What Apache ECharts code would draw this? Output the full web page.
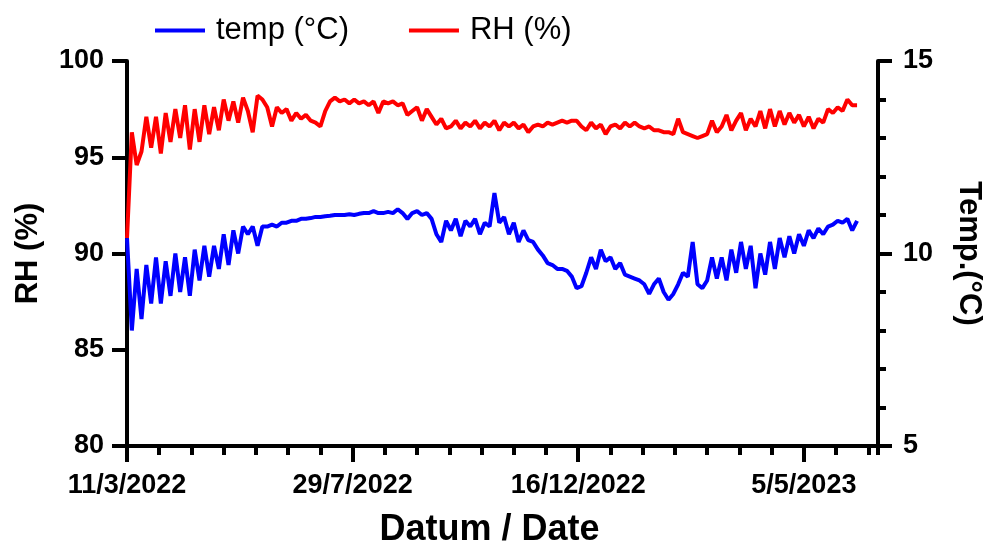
<!DOCTYPE html>
<html>
<head>
<meta charset="utf-8">
<script src="https://cdn.jsdelivr.net/npm/echarts@6/dist/echarts.min.js"></script>
<style>
  html, body { margin: 0; padding: 0; background: #fff; }
  #chart { width: 984px; height: 544px; }
</style>
</head>
<body>
<div id="chart"></div>
<script>
// logger readings, one every 3 days from 11/3/2022
var startDate = Date.UTC(2022, 2, 11);
var stepDays = 3;
var axisDays = 466;

var rhValues = [
  90.8, 96.3, 94.6, 95.3, 97.1, 95.5, 97.1, 95.2, 97.3, 95.8,
  97.5, 96.0, 97.7, 95.4, 97.5, 95.8, 97.7, 96.2, 97.6, 96.4,
  98.0, 96.9, 97.9, 96.8, 98.1, 97.4, 96.3, 98.2, 98.0, 97.6,
  96.6, 97.6, 97.3, 97.5, 96.9, 97.3, 97.0, 97.2, 96.9, 96.8,
  96.6, 97.4, 97.9, 98.1, 97.9, 98.0, 97.8, 98.0, 97.8, 97.9,
  97.7, 97.9, 97.3, 97.9, 97.8, 97.9, 97.7, 97.8, 97.2, 97.4,
  97.6, 96.9, 97.5, 97.1, 96.7, 97.0, 96.5, 96.6, 96.9, 96.5,
  96.8, 96.6, 96.9, 96.5, 96.8, 96.6, 96.9, 96.4, 96.8, 96.6,
  96.8, 96.5, 96.7, 96.3, 96.6, 96.7, 96.6, 96.8, 96.7, 96.8,
  96.9, 96.8, 96.9, 96.9, 96.6, 96.4, 96.8, 96.5, 96.7, 96.2,
  96.6, 96.7, 96.5, 96.8, 96.6, 96.8, 96.6, 96.5, 96.6, 96.4,
  96.4, 96.3, 96.3, 96.2, 97.0, 96.3, 96.2, 96.1, 96.0, 96.1,
  96.2, 96.9, 96.3, 96.6, 97.2, 96.4, 96.9, 97.3, 96.4, 97.0,
  96.6, 97.4, 96.5, 97.5, 96.6, 97.4, 96.7, 97.3, 96.8, 97.2,
  96.6, 97.1, 96.5, 97.0, 96.8, 97.5, 97.3, 97.6, 97.4, 98.0,
  97.7, 97.7
];

var tempValues = [
  10.4, 8.0, 9.6, 8.3, 9.7, 8.7, 9.9, 8.7, 9.8, 8.9,
  10.0, 9.0, 9.9, 8.9, 10.1, 9.3, 10.2, 9.4, 10.2, 9.6,
  10.5, 9.7, 10.6, 10.0, 10.7, 10.5, 10.7, 10.2, 10.7, 10.7,
  10.75, 10.7, 10.8, 10.8, 10.85, 10.85, 10.9, 10.9, 10.92, 10.95,
  10.95, 10.97, 10.98, 11.0, 11.0, 11.0, 11.02, 11.0, 11.03, 11.05,
  11.05, 11.1, 11.05, 11.05, 11.08, 11.05, 11.15, 11.05, 10.9, 11.05,
  11.1, 11.0, 11.05, 10.9, 10.5, 10.3, 10.85, 10.6, 10.9, 10.45,
  10.85, 10.7, 10.9, 10.5, 10.8, 10.7, 11.57, 10.8, 10.95, 10.5,
  10.8, 10.3, 10.6, 10.35, 10.3, 10.1, 9.95, 9.75, 9.7, 9.6,
  9.6, 9.55, 9.4, 9.1, 9.15, 9.5, 9.9, 9.6, 10.1, 9.8,
  9.9, 9.6, 9.75, 9.45, 9.4, 9.35, 9.3, 9.2, 8.95, 9.2,
  9.35, 9.0, 8.8, 8.95, 9.2, 9.5, 9.4, 10.3, 9.2, 9.1,
  9.3, 9.9, 9.35, 9.9, 9.3, 10.1, 9.5, 10.3, 9.6, 10.2,
  9.1, 10.0, 9.45, 10.3, 9.6, 10.4, 9.9, 10.45, 10.0, 10.5,
  10.2, 10.6, 10.4, 10.65, 10.5, 10.7, 10.75, 10.85, 10.8, 10.9,
  10.6, 10.85
];

var fontName = '"Liberation Sans", Arial, sans-serif';

function toSeries(values) {
  return values.map(function (v, i) { return [i * stepDays, v]; });
}

function dayLabel(v) {
  var d = new Date(startDate + v * 86400000);
  return d.getUTCDate() + '/' + (d.getUTCMonth() + 1) + '/' + d.getUTCFullYear();
}

var chart = echarts.init(document.getElementById('chart'), null, { renderer: 'canvas' });

var axisLine = { show: true, onZero: false, lineStyle: { color: '#000', width: 4 } };
var tickLabel = { color: '#000', fontFamily: fontName, fontWeight: 'bold', fontSize: 27 };
var titleStyle = { fontFamily: fontName, fontWeight: 'bold', fontSize: 31, color: '#000' };

chart.setOption({
  animation: false,
  backgroundColor: '#fff',
  legend: {
    left: 150,
    top: 10,
    itemWidth: 50,
    itemHeight: 4,
    itemGap: 60,
    icon: 'rect',
    textStyle: { fontFamily: fontName, fontSize: 31, color: '#000', padding: [0, 0, 0, 6] },
    data: ['temp (°C)', 'RH (%)']
  },
  grid: { left: 127, right: 106, top: 61, bottom: 98, outerBoundsMode: 'none' },
  xAxis: [
    {
      type: 'value',
      position: 'bottom',
      min: 0,
      max: axisDays,
      interval: 140,
      axisLine: axisLine,
      axisTick: { show: true, length: 16, lineStyle: { color: '#000', width: 4 } },
      splitLine: { show: false },
      axisLabel: Object.assign({ formatter: dayLabel, showMaxLabel: false, margin: 26 }, tickLabel),
      name: 'Datum / Date',
      nameLocation: 'middle',
      nameGap: 66,
      nameTextStyle: Object.assign({}, titleStyle, { fontSize: 36, padding: [0, 26, 0, 0] })
    },
    {
      type: 'value',
      position: 'bottom',
      min: 0,
      max: axisDays,
      interval: 20,
      axisLine: { show: false, onZero: false },
      axisTick: { show: true, length: 9, lineStyle: { color: '#000', width: 4 } },
      axisLabel: { show: false },
      splitLine: { show: false }
    }
  ],
  yAxis: [
    {
      type: 'value',
      position: 'left',
      min: 80,
      max: 100,
      interval: 5,
      axisLine: axisLine,
      axisTick: { show: true, length: 15, lineStyle: { color: '#000', width: 4 } },
      splitLine: { show: false },
      axisLabel: Object.assign({ margin: 23 }, tickLabel),
      name: 'RH (%)',
      nameLocation: 'middle',
      nameGap: 83,
      nameTextStyle: titleStyle
    },
    {
      type: 'value',
      position: 'right',
      min: 5,
      max: 15,
      interval: 5,
      axisLine: axisLine,
      axisTick: { show: true, length: 14, lineStyle: { color: '#000', width: 4 } },
      minorTick: { show: true, splitNumber: 5, length: 8, lineStyle: { color: '#000', width: 4 } },
      splitLine: { show: false },
      minorSplitLine: { show: false },
      axisLabel: Object.assign({ margin: 25 }, tickLabel),
      name: 'Temp.(°C)',
      nameLocation: 'middle',
      nameRotate: -90,
      nameGap: 75,
      nameTextStyle: titleStyle
    }
  ],
  series: [
    {
      name: 'RH (%)',
      type: 'line',
      xAxisIndex: 0,
      yAxisIndex: 0,
      showSymbol: false,
      color: '#ff0000',
      lineStyle: { width: 4, color: '#ff0000' },
      data: toSeries(rhValues)
    },
    {
      name: 'temp (°C)',
      type: 'line',
      xAxisIndex: 0,
      yAxisIndex: 1,
      showSymbol: false,
      color: '#0000ff',
      lineStyle: { width: 4, color: '#0000ff' },
      data: toSeries(tempValues)
    }
  ]
});
</script>
</body>
</html>
